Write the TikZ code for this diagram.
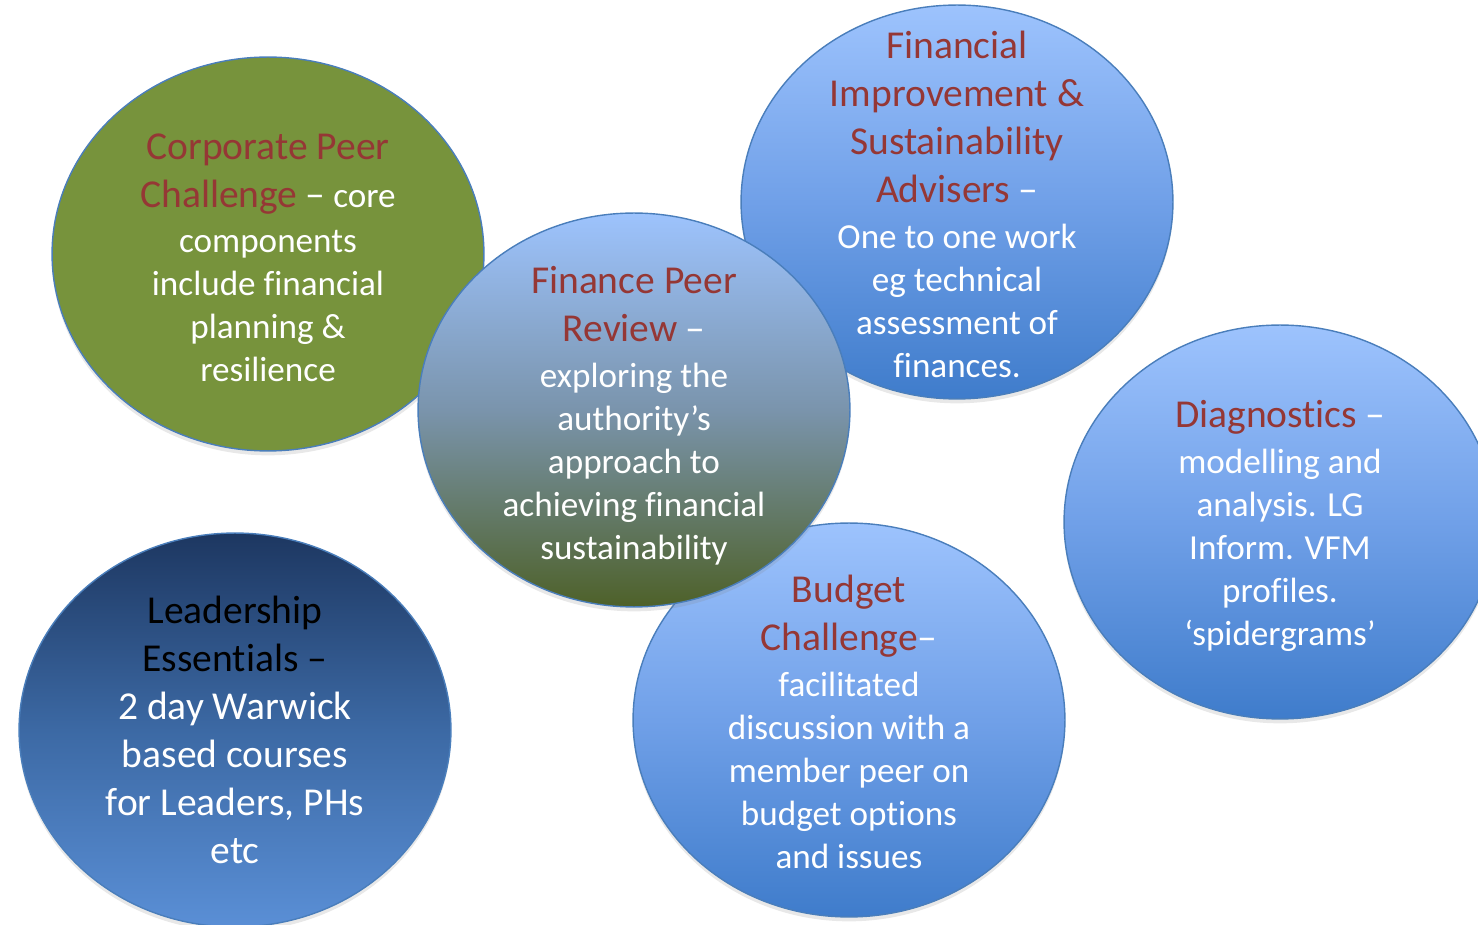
\documentclass[tikz,border=0pt]{standalone}
\usepackage{fontspec}
\setmainfont{Carlito}[Ligatures={TeX,NoCommon}]
\usetikzlibrary{shapes.geometric, shadows}
\definecolor{bbtitle}{HTML}{953735}
\definecolor{bbedge}{HTML}{4A7EBB}
\definecolor{bbgreen}{HTML}{77933C}
\definecolor{bbsky}{HTML}{9DC3FD}
\definecolor{bbskymid}{HTML}{70A0E8}
\definecolor{bbdeep}{HTML}{3F7CCB}
\definecolor{bbnavy}{HTML}{1D3761}
\definecolor{bbnavymid}{HTML}{3C69A4}
\definecolor{bbsteel}{HTML}{5A8FD6}
\definecolor{bbslate}{HTML}{7A94AC}
\definecolor{bbolive}{HTML}{4E6129}

\newcommand{\bubhead}[1]{{\color{bbtitle}\fontsize{22.5}{24.5}\selectfont #1}}
\newcommand{\bubdash}{{\fontsize{22.5}{24.5}\selectfont\textendash}}

\begin{document}
\begin{tikzpicture}[
  x=0.02cm, y=-0.02cm,
  every node/.style={font=\fontsize{20}{24.5}\selectfont},
  bubble/.style={ellipse, draw=bbedge, line width=0.8pt, minimum width=8.64cm, minimum height=7.88cm, inner sep=0pt,
    drop shadow={opacity=0.18, shadow xshift=0pt, shadow yshift=-2.5pt}},
  bubtext/.style={align=center, text=white, inner sep=0pt, yshift=-2.2pt},
  greenfill/.style={fill=bbgreen},
  skyfill/.style={top color=bbsky, bottom color=bbdeep, middle color=bbskymid},
  olivefill/.style={top color=bbsky, bottom color=bbolive, middle color=bbslate},
  navyfill/.style={top color=bbnavy, bottom color=bbsteel, middle color=bbnavymid},
]
\useasboundingbox (0,0) rectangle (1478,925);
\clip (0,0) rectangle (1478,925);

% back row
\node[bubble, greenfill] (corp) at (268,254) {};
\node[bubtext] (corp-t) at (corp.center) {\bubhead{Corporate Peer}\\[2.8pt]
  \bubhead{Challenge} \bubdash{} core\\[1.1pt]
  components\\ include financial\\ planning \&\\ resilience};

\node[bubble, skyfill] (fisa) at (957,202) {};
\node[bubtext, yshift=1pt] (fisa-t) at (fisa.center) {\bubhead{Financial}\\[2.8pt]
  \bubhead{Improvement \&}\\[2.8pt]
  \bubhead{Sustainability}\\[2.8pt]
  \bubhead{Advisers} \bubdash\\[1.7pt]
  One to one work\\ eg technical\\ assessment of\\ finances.};

\node[bubble, skyfill] (diag) at (1280,522) {};
\node[bubtext] (diag-t) at (diag.center) {\bubhead{Diagnostics} \bubdash\\[1.7pt]
  modelling and\\ analysis. LG\\ Inform. VFM\\ profiles.\\ ‘spidergrams’};

\node[bubble, navyfill] (lead) at (235,730) {};
\node[bubtext, yshift=2.2pt, font=\fontsize{22.5}{27.3}\selectfont] (lead-t) at (lead.center) {{\color{black}Leadership}\\
  {\color{black}Essentials \textendash}\\
  2 day Warwick\\ based courses\\ for Leaders, PHs\\ etc};

\node[bubble, skyfill] (budget) at (849,720) {};
\node[bubtext, yshift=1.2pt] (budget-t) at (budget.center) {\bubhead{Budget}\\[2.8pt]
  \bubhead{Challenge}\bubdash\\[1.7pt]
  facilitated\\ discussion with a\\ member peer on\\ budget options\\ and issues};

% front
\node[bubble, olivefill] (fpr) at (634,410) {};
\node[bubtext, yshift=-1pt] (fpr-t) at (fpr.center) {\bubhead{Finance Peer}\\[2.8pt]
  \bubhead{Review} \bubdash\\[1.7pt]
  exploring the\\ authority’s\\ approach to\\ achieving financial\\ sustainability};

\end{tikzpicture}
\end{document}
